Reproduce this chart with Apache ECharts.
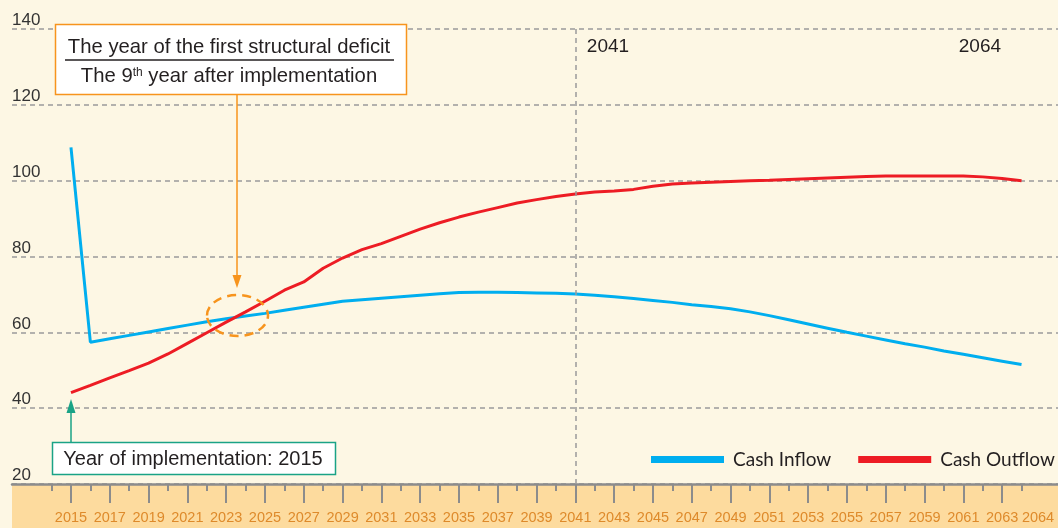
<!DOCTYPE html>
<html>
<head>
<meta charset="utf-8">
<script src="https://cdn.jsdelivr.net/npm/echarts@6/dist/echarts.min.js"></script>
<style>
  html, body { margin: 0; padding: 0; background: #FDF7E4; }
  #band { position: absolute; left: 12px; top: 484px; width: 1046px; height: 44px; background: #FDDB9E; }
  #chart { position: absolute; left: 0; top: 0; width: 1058px; height: 528px; }
</style>
</head>
<body>
<div id="band"></div>
<div id="chart"></div>
<script>
// Projection years
const years = [
  2015, 2016, 2017, 2018, 2019, 2020, 2021, 2022, 2023, 2024,
  2025, 2026, 2027, 2028, 2029, 2030, 2031, 2032, 2033, 2034,
  2035, 2036, 2037, 2038, 2039, 2040, 2041, 2042, 2043, 2044,
  2045, 2046, 2047, 2048, 2049, 2050, 2051, 2052, 2053, 2054,
  2055, 2056, 2057, 2058, 2059, 2060, 2061, 2062, 2063, 2064
];

// Cash inflow
const cashInflow = [
  108.8, 57.4, 58.3, 59.2, 60.1, 61.0, 61.9, 62.8, 63.6, 64.3,
  65.0, 65.8, 66.6, 67.4, 68.2, 68.6, 69.0, 69.4, 69.8, 70.2,
  70.5, 70.6, 70.6, 70.5, 70.4, 70.3, 70.1, 69.8, 69.4, 68.9,
  68.4, 67.9, 67.3, 66.8, 66.2, 65.4, 64.4, 63.3, 62.2, 61.1,
  60.0, 59.0, 58.0, 57.0, 56.1, 55.1, 54.2, 53.3, 52.4, 51.5
];

// Cash outflow
const cashOutflow = [
  44.1, 46.0, 48.0, 49.9, 51.9, 54.3, 57.1, 59.9, 62.7, 65.4,
  68.2, 71.1, 73.3, 76.9, 79.6, 81.8, 83.4, 85.3, 87.2, 88.9,
  90.4, 91.7, 92.9, 94.1, 95.0, 95.8, 96.5, 97.0, 97.3, 97.7,
  98.5, 99.1, 99.4, 99.6, 99.8, 100.0, 100.1, 100.3, 100.5, 100.7,
  100.9, 101.1, 101.2, 101.2, 101.2, 101.2, 101.2, 101.0, 100.6, 100.0
];

// Axis ticks and labels
const majorTickYears = [2015, 2017, 2019, 2021, 2023, 2025, 2027, 2029, 2031, 2033, 2035, 2037, 2039,
  2041, 2043, 2045, 2047, 2049, 2051, 2053, 2055, 2057, 2059, 2061, 2063];
const minorTickYears = [2014, 2016, 2018, 2020, 2022, 2024, 2026, 2028, 2030, 2032, 2034, 2036, 2038,
  2040, 2042, 2044, 2046, 2048, 2050, 2052, 2054, 2056, 2058, 2060, 2062, 2064];
const xLabelYears = majorTickYears.concat([2064]);
const yTicks = { min: 20, max: 140, step: 20 };
const markedYears = [2041, 2064];

const seriesNames = ['Cash Inflow', 'Cash Outflow'];

const X_MIN = 2011.96, X_MAX = 2065.88;
const GRID_GRAY = '#9A9A9A';
const AXIS_GRAY = '#8C8C8C';
const ORANGE = '#F7941D';
const GREEN = '#1AA386';
const TEXT = '#231F20';
const YEAR_ORANGE = '#DE8A2B';
const SANS = '"Liberation Sans", Arial, sans-serif';

// Year labels on the time axis use a condensed face when one is installed,
// otherwise a smaller regular face so that neighbouring years do not collide.
function pickYearFont() {
  const ctx = document.createElement('canvas').getContext('2d');
  const candidates = [
    { weight: 'normal', family: '"Liberation Sans Narrow"', size: 17 },
    { weight: 'normal', family: '"DejaVu Sans Condensed"', size: 16 },
    { weight: 'condensed', family: '"DejaVu Sans"', size: 16 },
    { weight: 'condensed', family: '"Noto Sans"', size: 17 }
  ];
  for (const c of candidates) {
    ctx.font = 'normal ' + c.weight + ' ' + c.size + 'px ' + c.family + ', monospace';
    const w = ctx.measureText('2015').width;
    if (w > 0 && w < 33) return c;
  }
  return { weight: 'normal', family: SANS, size: 14.5 };
}
const yearFont = pickYearFont();

const chart = echarts.init(document.getElementById('chart'), null, { renderer: 'canvas' });

const yearLabelStyle = {
  color: YEAR_ORANGE,
  fontFamily: yearFont.family,
  fontWeight: yearFont.weight,
  fontSize: yearFont.size
};

const option = {
  backgroundColor: 'transparent',
  animation: false,
  grid: { left: 12, right: 0, top: 29, bottom: 44, containLabel: false },
  legend: {
    data: seriesNames,
    left: 651,
    top: 450,
    width: 407,
    padding: 0,
    icon: 'rect',
    itemWidth: 73,
    itemHeight: 7,
    itemGap: 27,
    textStyle: { fontFamily: 'Lato, "Open Sans", sans-serif', fontSize: 19, color: TEXT, padding: [0, 0, 0, 4] }
  },
  xAxis: [
    {
      type: 'value',
      min: X_MIN,
      max: X_MAX,
      position: 'bottom',
      axisLine: { show: true, lineStyle: { color: AXIS_GRAY, width: 2.5 } },
      axisTick: { show: true, customValues: majorTickYears, length: 19, lineStyle: { color: AXIS_GRAY, width: 2 } },
      axisLabel: Object.assign({
        customValues: xLabelYears,
        margin: 26,
        formatter: function (v) { return v === 2064 ? '{r|' + v + '}' : String(v); },
        rich: {
          r: Object.assign({ padding: [0, 0, 0, 33] }, yearLabelStyle)
        }
      }, yearLabelStyle),
      splitLine: { show: false }
    },
    {
      type: 'value',
      min: X_MIN,
      max: X_MAX,
      position: 'bottom',
      axisLine: { show: false },
      axisTick: { show: true, customValues: minorTickYears, length: 7, lineStyle: { color: AXIS_GRAY, width: 2 } },
      axisLabel: { show: false },
      splitLine: { show: false }
    }
  ],
  yAxis: {
    type: 'value',
    min: yTicks.min,
    max: yTicks.max,
    interval: yTicks.step,
    axisLine: { show: false },
    axisTick: { show: false },
    axisLabel: {
      inside: true,
      margin: 0,
      align: 'left',
      verticalAlign: 'bottom',
      color: '#333333',
      fontFamily: SANS,
      fontSize: 17
    },
    splitLine: { show: true, lineStyle: { color: GRID_GRAY, type: [5, 4], width: 1.5 } }
  },
  series: [
    {
      name: seriesNames[0],
      type: 'line',
      xAxisIndex: 0,
      data: years.map((y, i) => [y, cashInflow[i]]),
      symbol: 'none',
      lineStyle: { color: '#00AEEF', width: 3 },
      itemStyle: { color: '#00AEEF' },
      z: 3,
      markLine: {
        silent: true,
        symbol: ['none', 'none'],
        label: { show: false },
        lineStyle: { color: GRID_GRAY, type: [5, 4], width: 1.5 },
        data: [{ xAxis: markedYears[0] }]
      },
      markPoint: {
        silent: true,
        symbol: 'circle',
        symbolSize: 1,
        itemStyle: { color: 'transparent' },
        label: {
          show: true,
          color: TEXT,
          fontFamily: SANS,
          fontSize: 19,
          formatter: function (p) { return String(p.data.coord[0]); }
        },
        data: [
          { coord: [markedYears[0], 135.3], label: { position: 'right', distance: 11 } },
          { coord: [markedYears[1], 135.3], label: { position: 'left', distance: 20 } }
        ]
      }
    },
    {
      name: seriesNames[1],
      type: 'line',
      xAxisIndex: 0,
      data: years.map((y, i) => [y, cashOutflow[i]]),
      symbol: 'none',
      lineStyle: { color: '#ED1C24', width: 3 },
      itemStyle: { color: '#ED1C24' },
      z: 4
    }
  ],
  graphic: [
    // first structural deficit callout
    { type: 'rect', shape: { x: 55.5, y: 24.5, width: 351, height: 70 },
      style: { fill: '#FFFFFF', stroke: ORANGE, lineWidth: 1.5 }, z: 10 },
    { type: 'text', x: 229, y: 47, z: 11,
      style: { text: 'The year of the first structural deficit', fontFamily: SANS, fontSize: 20.3,
               fill: TEXT, align: 'center', verticalAlign: 'middle' } },
    { type: 'line', shape: { x1: 65, y1: 60, x2: 394, y2: 60 }, z: 11,
      style: { stroke: TEXT, lineWidth: 1.5 } },
    { type: 'text', x: 229, y: 76.5, z: 11,
      style: {
        text: '{a|The 9}{s|th}{a| year after implementation}',
        align: 'center', verticalAlign: 'middle',
        rich: {
          a: { fontFamily: SANS, fontSize: 20.3, fill: TEXT, color: TEXT },
          s: { fontFamily: SANS, fontSize: 12, fill: TEXT, color: TEXT, verticalAlign: 'top' }
        }
      } },
    { type: 'line', shape: { x1: 237, y1: 95, x2: 237, y2: 277 }, z: 10,
      style: { stroke: ORANGE, lineWidth: 1.5 } },
    { type: 'polygon', shape: { points: [[232.5, 275], [241.5, 275], [237, 288]] }, z: 10,
      style: { fill: ORANGE } },
    { type: 'ellipse', shape: { cx: 237.5, cy: 315.5, rx: 30.5, ry: 20.5 }, z: 10,
      style: { fill: 'none', stroke: ORANGE, lineWidth: 2.5, lineDash: [9, 6] } },
    // implementation year callout
    { type: 'rect', shape: { x: 52.5, y: 442.5, width: 283, height: 32 },
      style: { fill: '#FFFFFF', stroke: GREEN, lineWidth: 1.5 }, z: 10 },
    { type: 'text', x: 193, y: 459, z: 11,
      style: { text: 'Year of implementation: ' + years[0], fontFamily: SANS, fontSize: 20,
               fill: TEXT, align: 'center', verticalAlign: 'middle' } },
    { type: 'line', shape: { x1: 71, y1: 442, x2: 71, y2: 410 }, z: 10,
      style: { stroke: GREEN, lineWidth: 1.5 } },
    { type: 'polygon', shape: { points: [[66.5, 413], [75.5, 413], [71, 399]] }, z: 10,
      style: { fill: GREEN } }
  ]
};

chart.setOption(option);
</script>
</body>
</html>
